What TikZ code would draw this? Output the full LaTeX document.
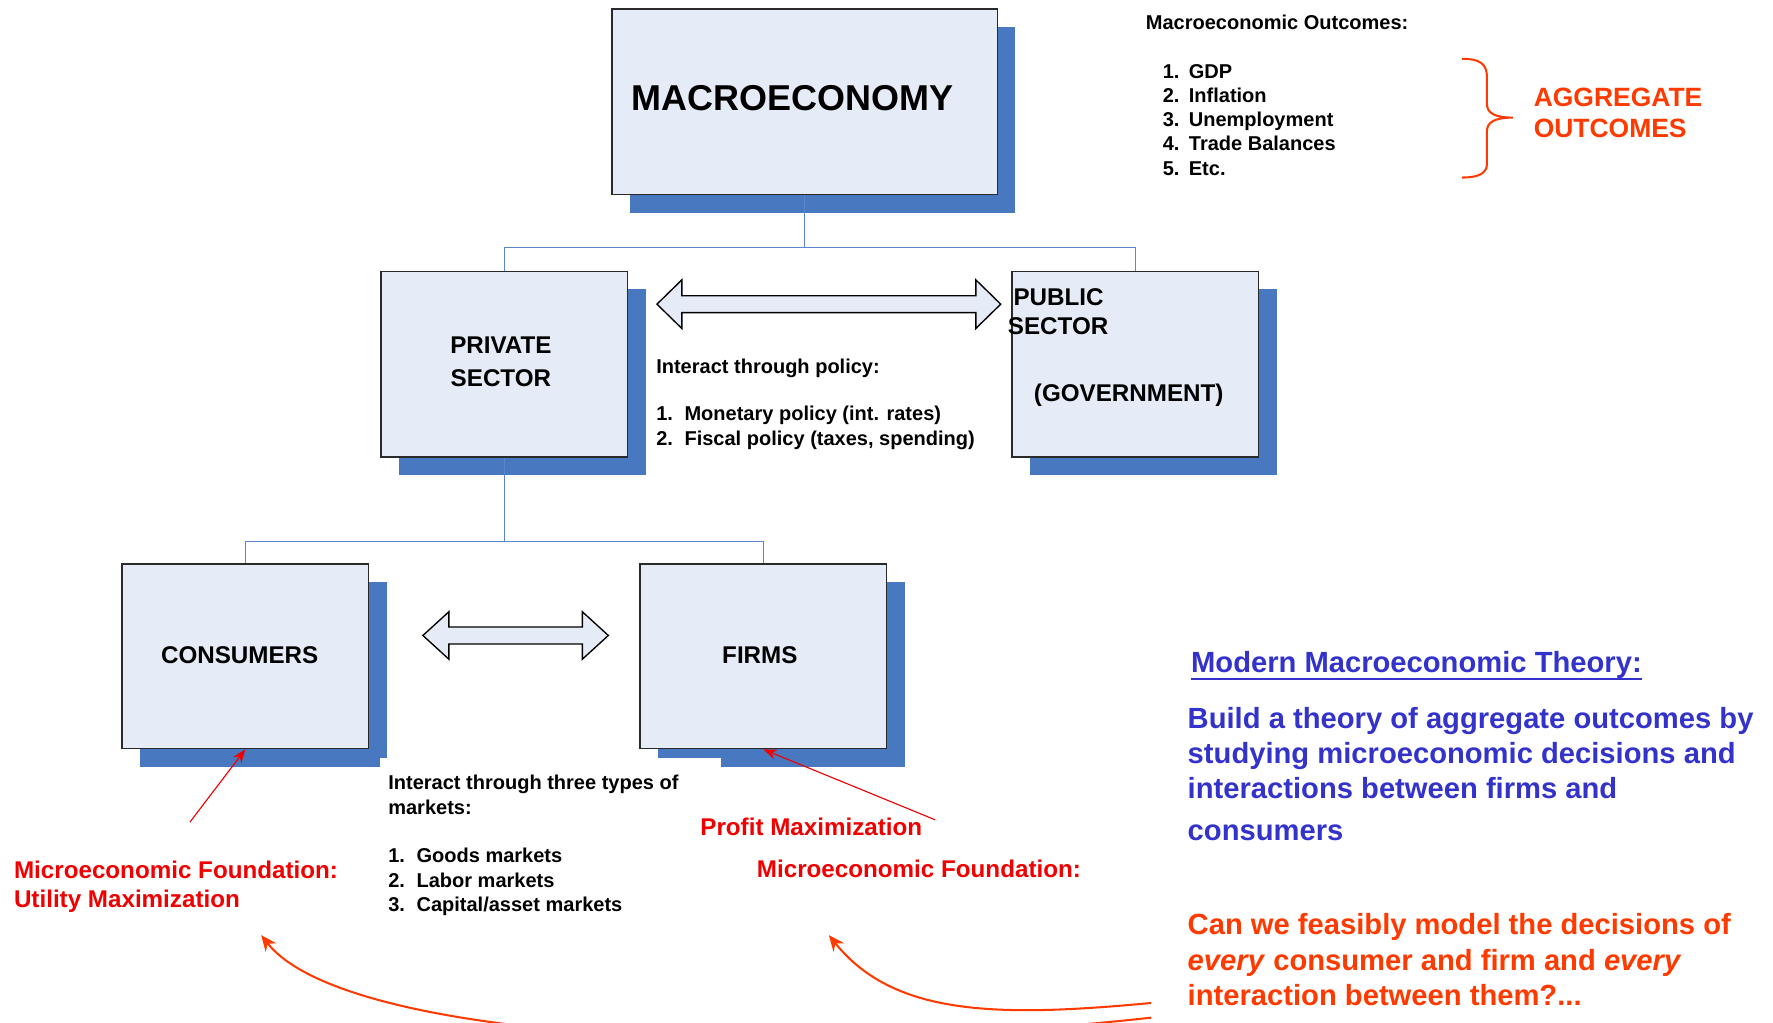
\documentclass[tikz,border=0pt]{standalone}
\usepackage{fontspec}
\setmainfont{Liberation Sans}
\usetikzlibrary{arrows.meta,shadows}
\definecolor{boxfill}{HTML}{E6ECF7}
\definecolor{boxline}{HTML}{2A2A2A}
\definecolor{shadowblue}{HTML}{4878C0}
\definecolor{connblue}{HTML}{5A86CC}
\definecolor{redA}{HTML}{F00000}
\definecolor{orangeA}{HTML}{FF3A00}
\definecolor{blueT}{HTML}{3333CC}
\tikzset{
  box/.style={draw=boxline, line width=0.7pt, fill=boxfill, inner sep=0pt,
    general shadow={fill=shadowblue, shadow xshift=8pt, shadow yshift=-8pt}},
  conn/.style={draw=connblue, line width=0.55pt},
  dblarrow/.style={draw=black, line width=0.6pt, fill=boxfill, line join=miter},
  t/.style={inner sep=0pt, anchor=base west, text=black},
  fsmall/.style={font=\fontsize{8.85pt}{10pt}\selectfont\bfseries},
  fmid/.style={font=\fontsize{10.7pt}{12pt}\selectfont\bfseries},
  fagg/.style={font=\fontsize{11.7pt}{13pt}\selectfont\bfseries},
  fbig/.style={font=\fontsize{12.9pt}{14pt}\selectfont\bfseries},
  redarrow/.style={draw=redA, line width=0.5pt, -{Stealth[length=6pt,width=4.5pt]}},
  curvearrow/.style={draw=orangeA, line width=0.9pt, -{Stealth[length=7pt,width=6pt]}},
}
\begin{document}
\begin{tikzpicture}[x=0.5pt,y=-0.5pt]
\useasboundingbox (0,0) rectangle (1568,904);

% boxes
\node[box, minimum width=170.5pt, minimum height=82pt] (macro) at (711.5,90) {};
\node[box, minimum width=109pt, minimum height=82pt] (private) at (446,322) {};
\node[box, minimum width=109pt, minimum height=82pt] (public) at (1004,322) {};
\node[box, minimum width=109pt, minimum height=81.5pt] (consumers) at (217,580.5) {};
\node[box, minimum width=109pt, minimum height=81.5pt] (firms) at (675,580.5) {};

% white text box of the markets note, cutting the shadows
\node[fill=white, inner sep=0pt, minimum width=150.5pt, minimum height=70pt, anchor=north west] (mktbox) at (336,670) {};

% connectors
\coordinate (j1) at (711.5,219);
\draw[conn] (macro.south) -- (j1);
\draw[conn] (private.north) |- (j1) -| (public.north);
\coordinate (j2) at (446,479);
\draw[conn] (private.south) -- (j2);
\draw[conn] (consumers.north) |- (j2) -| (firms.north);

% double arrows
\draw[dblarrow] (581,269) -- (603,247.5) -- (603,261.5) -- (863,261.5) -- (863,247.5) -- (885,269)
  -- (863,290.5) -- (863,276.5) -- (603,276.5) -- (603,290.5) -- cycle;
\draw[dblarrow] (374,562) -- (397,541) -- (397,554.5) -- (515,554.5) -- (515,541) -- (538,562)
  -- (515,583) -- (515,569.5) -- (397,569.5) -- (397,583) -- cycle;

% box texts
\node[t, font=\fontsize{15.9pt}{18pt}\selectfont\bfseries] (macrotxt) at (558,98) {MACROECONOMY};
\node[t, fmid, anchor=base] (pv1) at (443,313) {PRIVATE};
\node[t, fmid, anchor=base] (pv2) at (443,342) {SECTOR};
\node[t, fmid] (pb1) at (896,270) {PUBLIC};
\node[t, fmid] (pb2) at (891,296) {SECTOR};
\node[t, fmid] (pb3) at (914,355) {(GOVERNMENT)};
\node[t, fmid, anchor=base] (cons) at (212,587) {CONSUMERS};
\node[t, fmid, anchor=base] (frm) at (672,587) {FIRMS};

% outcomes list
\node[t, fsmall] (mo) at (1013,26) {Macroeconomic Outcomes:};
\node[t, fsmall] (mo1) at (1028,69) {\makebox[11.5pt][l]{1.}GDP};
\node[t, fsmall] (mo2) at (1028,90.5) {\makebox[11.5pt][l]{2.}Inflation};
\node[t, fsmall] (mo3) at (1028,112) {\makebox[11.5pt][l]{3.}Unemployment};
\node[t, fsmall] (mo4) at (1028,133.5) {\makebox[11.5pt][l]{4.}Trade Balances};
\node[t, fsmall] (mo5) at (1028,155) {\makebox[11.5pt][l]{5.}Etc.};

% brace
\draw[orangeA, line width=0.9pt] (1293,52) .. controls (1308,52) and (1315,56) .. (1315,68) -- (1315,92)
  .. controls (1315,100) and (1322,104) .. (1338,104)
  .. controls (1322,104) and (1315,108) .. (1315,116) -- (1315,145)
  .. controls (1315,153) and (1308,157) .. (1293,157);
\node[t, fagg, text=orangeA] (ag1) at (1356,94) {AGGREGATE};
\node[t, fagg, text=orangeA] (ag2) at (1356,122) {OUTCOMES};

% policy text
\node[t, fsmall] (ip) at (580,330) {Interact through policy:};
\node[t, fsmall] (ip1) at (580,372) {\makebox[12.5pt][l]{1.}Monetary policy (int. rates)};
\node[t, fsmall] (ip2) at (580,394) {\makebox[12.5pt][l]{2.}Fiscal policy (taxes, spending)};

% markets text
\node[t, fsmall] (im) at (343,698) {Interact through three types of};
\node[t, fsmall] (im0) at (343,720) {markets:};
\node[t, fsmall] (im1) at (343,763) {\makebox[12.5pt][l]{1.}Goods markets};
\node[t, fsmall] (im2) at (343,785) {\makebox[12.5pt][l]{2.}Labor markets};
\node[t, fsmall] (im3) at (343,806) {\makebox[12.5pt][l]{3.}Capital/asset markets};

% red labels and arrows
\node[t, fmid, text=redA] (pm) at (619,739) {Profit Maximization};
\node[t, fmid, text=redA] (mf2) at (669,776) {Microeconomic Foundation:};
\node[t, fmid, text=redA] (mf1) at (12,777) {Microeconomic Foundation:};
\node[t, fmid, text=redA] (um) at (12,803) {Utility Maximization};
\coordinate (ra1) at (168,727);
\coordinate (ra2) at (827,725);
\draw[redarrow] (ra1) -- (consumers.south);
\draw[redarrow] (ra2) -- (firms.south);

% blue paragraph
\node[t, fbig, text=blueT] (mmt) at (1053,595) {Modern Macroeconomic Theory:};
\draw[blueT, line width=1pt] ([yshift=-2.6pt]mmt.base west) -- ([yshift=-2.6pt]mmt.base east);
\node[t, fbig, text=blueT] (b1) at (1050,644) {Build a theory of aggregate outcomes by};
\node[t, fbig, text=blueT] (b2) at (1050,675) {studying microeconomic decisions and};
\node[t, fbig, text=blueT] (b3) at (1050,706) {interactions between firms and};
\node[t, fbig, text=blueT] (b4) at (1050,743) {consumers};

% orange question
\node[t, fbig, text=orangeA] (q1) at (1050,826) {Can we feasibly model the decisions of};
\node[t, fbig, text=orangeA] (q2) at (1050,858) {\textit{every} consumer and firm and \textit{every}};
\node[t, fbig, text=orangeA] (q3) at (1050,889) {interaction between them?...};

% curved arrows
\coordinate (c1s) at (1018,887);
\coordinate (c1e) at (733,827);
\coordinate (c2s) at (1018,900);
\coordinate (c2e) at (231,827);
\begin{scope}
\clip (0,0) rectangle (1568,904);
\draw[curvearrow] (c1s) .. controls (880,900) and (790,898) .. (c1e);
\draw[curvearrow] (c2s) .. controls (650,940) and (300,915) .. (c2e);
\end{scope}
\end{tikzpicture}
\end{document}
